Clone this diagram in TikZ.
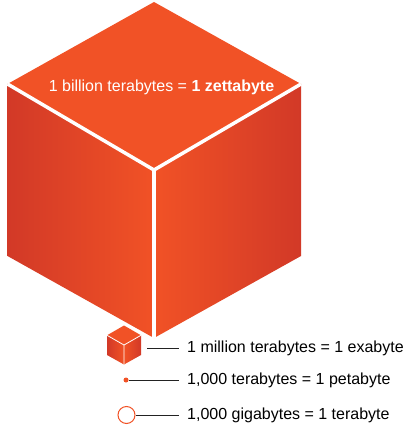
\documentclass[tikz,border=0pt]{standalone}
\usepackage{fontspec}
\setmainfont{Liberation Sans}
\usetikzlibrary{positioning}
\definecolor{zorange}{HTML}{F15226}
\definecolor{zdark}{HTML}{D23927}
\definecolor{zline}{HTML}{222222}

\begin{document}
\begin{tikzpicture}[x=1pt,y=-1pt,
  legtext/.style={anchor=west,inner sep=0pt,font=\fontsize{16}{19}\selectfont},
  legline/.style={draw=zline,line width=0.9pt},
  seam/.style={draw=white,line width=3.5pt}]
\useasboundingbox (0,0) rectangle (407,427);
% big cube
\coordinate (T) at (154,2);
\coordinate (L) at (7.5,84);
\coordinate (R) at (301,84);
\coordinate (C) at (154,170);
\coordinate (BL) at (7.5,256);
\coordinate (BR) at (301,256);
\coordinate (B) at (154,338);
\fill[zorange] (T) -- (R) -- (C) -- (L) -- cycle;
\shade[left color=zdark,right color=zorange] (L) -- (C) -- (B) -- (BL) -- cycle;
\shade[left color=zorange,right color=zdark] (C) -- (R) -- (BR) -- (B) -- cycle;
\draw[seam] (L) -- (C) -- (R);
\draw[seam] (C) -- (B);
\node[text=white,inner sep=0pt,font=\fontsize{16}{19}\selectfont] (zetta) at (161.5,87)
  {1 billion terabytes = \textbf{1 zettabyte}};
% small cube
\coordinate (t) at (124,325.5);
\coordinate (l) at (107,335.3);
\coordinate (r) at (141,335.3);
\coordinate (c) at (124,345);
\coordinate (bl) at (107,355);
\coordinate (br) at (141,355);
\coordinate (b) at (124,364.5);
\fill[zorange] (t) -- (r) -- (c) -- (l) -- cycle;
\shade[left color=zdark,right color=zorange] (l) -- (c) -- (b) -- (bl) -- cycle;
\shade[left color=zorange,right color=zdark] (c) -- (r) -- (br) -- (b) -- cycle;
\draw[draw=white,line width=0.8pt] (l) -- (c) -- (r) (c) -- (b);
% legend
\node[legtext] (exa) at (187,348) {1 million terabytes = 1 exabyte};
\node[legtext] (peta) at (187,380) {1,000 terabytes = 1 petabyte};
\node[legtext] (tera) at (187,415) {1,000 gigabytes = 1 terabyte};
\coordinate (exaend) at (147,348);
\node[fill=zorange,circle,inner sep=0pt,minimum size=5pt] (pdot) at (126,380) {};
\node[draw=zorange,fill=white,circle,inner sep=0pt,minimum size=17pt,line width=1pt] (tcirc) at (126.5,415) {};
\draw[legline] (exaend) -- ([xshift=-8pt]exa.west);
\draw[legline] (pdot) -- ([xshift=-8pt]peta.west);
\draw[legline] (tcirc) -- ([xshift=-8pt]tera.west);
\end{tikzpicture}
\end{document}
